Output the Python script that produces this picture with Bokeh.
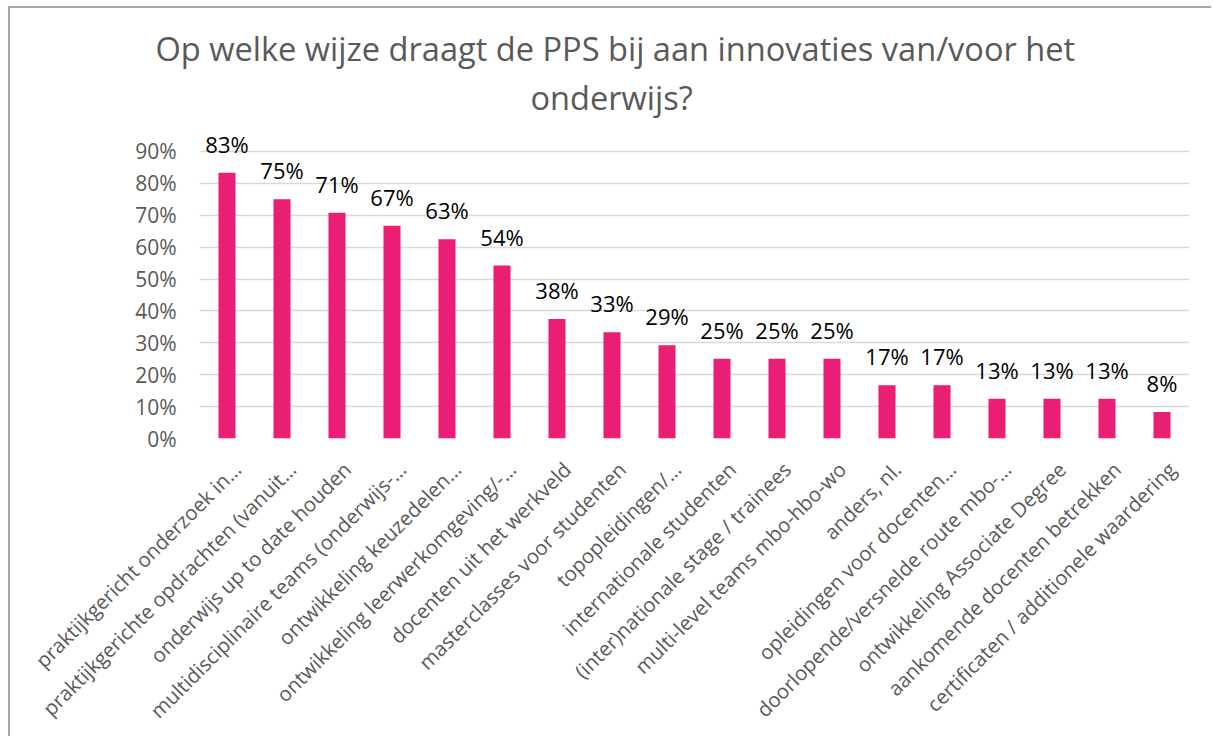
import math
from bokeh.plotting import figure
from bokeh.models import (ColumnDataSource, Range1d, FixedTicker, NumeralTickFormatter,
                          Title, LinearAxis)
from bokeh.core.properties import value
from bokeh.embed import file_html
from bokeh.resources import INLINE

categories = [
    "praktijkgericht onderzoek in…",
    "praktijkgerichte opdrachten (vanuit…",
    "onderwijs up to date houden",
    "multidisciplinaire teams (onderwijs-…",
    "ontwikkeling keuzedelen…",
    "ontwikkeling leerwerkomgeving/-…",
    "docenten uit het werkveld",
    "masterclasses voor studenten",
    "topopleidingen/…",
    "internationale studenten",
    "(inter)nationale stage / trainees",
    "multi-level teams mbo-hbo-wo",
    "anders, nl.",
    "opleidingen voor docenten…",
    "doorlopende/versnelde route mbo-…",
    "ontwikkeling Associate Degree",
    "aankomende docenten betrekken",
    "certificaten / additionele waardering",
]
shares = [0.833, 0.75, 0.708, 0.667, 0.625, 0.542, 0.375, 0.333, 0.292,
          0.25, 0.25, 0.25, 0.167, 0.167, 0.125, 0.125, 0.125, 0.083]
y_ticks = [0.0, 0.1, 0.2, 0.3, 0.4, 0.5, 0.6, 0.7, 0.8, 0.9]
title_line1 = "Op welke wijze draagt de PPS bij aan innovaties van/voor het"
title_line2 = "onderwijs?"

n = len(categories)
pos = list(range(n))
labels = [f"{int(v * 100 + 0.5)}%" for v in shares]
src = ColumnDataSource(dict(x=pos, cat=categories, val=shares, lab=labels))

FONT = "Open Sans"
GRAY = "#595959"

W, H = 1203, 730
p = figure(x_range=Range1d(-0.5, n - 0.5), y_range=Range1d(0, 1.0), width=W, height=H,
           output_backend="svg", toolbar_location=None,
           min_border_left=189, min_border_right=24, min_border_top=111,
           min_border_bottom=300,
           styles={"margin-left": "10px", "margin-top": "8px",
                   "box-shadow": "-2px -2px 0 0 #a6a6a6"})
p.outline_line_color = None
p.background_fill_color = "white"
p.border_fill_color = "white"

# two-line title, placed like the original (centred on the whole chart)
p.title.text = ""
p.add_layout(Title(text=title_line2, align="left", offset=331, standoff=0,
                   text_font=FONT, text_font_size="32.6px", text_font_style="normal",
                   text_color=GRAY), "above")
p.add_layout(Title(text=title_line1, align="left", offset=-44, standoff=3,
                   text_font=FONT, text_font_size="32.6px", text_font_style="normal",
                   text_color=GRAY), "above")

p.vbar(x="x", top="val", width=0.31, source=src, color="#E91E74", line_color=None)
p.text(x="x", y="val", text="lab", source=src, text_align="center",
       text_baseline="alphabetic", y_offset=-29, text_font=value(FONT),
       text_font_size="22px", text_color="black")

p.yaxis.ticker = FixedTicker(ticks=y_ticks)
p.yaxis.formatter = NumeralTickFormatter(format="0%")
p.yaxis.axis_line_color = None
p.yaxis.major_tick_line_color = None
p.yaxis.minor_tick_line_color = None
p.yaxis.major_label_standoff = 17
p.yaxis.major_label_text_font = FONT
p.yaxis.major_label_text_font_size = "21px"
p.yaxis.major_label_text_color = GRAY

p.ygrid.grid_line_color = "#D9D9D9"
p.ygrid.grid_line_width = 1.5
p.xgrid.grid_line_color = None

# category labels on a slightly shifted helper range so the rotated labels sit like the original
p.xaxis.visible = False
p.extra_x_ranges["lab"] = Range1d(start=-0.5 - 0.18, end=n - 0.5 - 0.18)
lab_axis = LinearAxis(x_range_name="lab", ticker=FixedTicker(ticks=pos),
                      major_label_overrides={i: c for i, c in enumerate(categories)})
lab_axis.axis_line_color = None
lab_axis.major_tick_line_color = None
lab_axis.minor_tick_line_color = None
lab_axis.major_label_orientation = math.pi / 4
lab_axis.major_label_standoff = 21
lab_axis.major_label_text_font = FONT
lab_axis.major_label_text_font_size = "20.3px"
lab_axis.major_label_text_color = GRAY
p.add_layout(lab_axis, "below")

open("out.html", "w").write(file_html(p, INLINE))
